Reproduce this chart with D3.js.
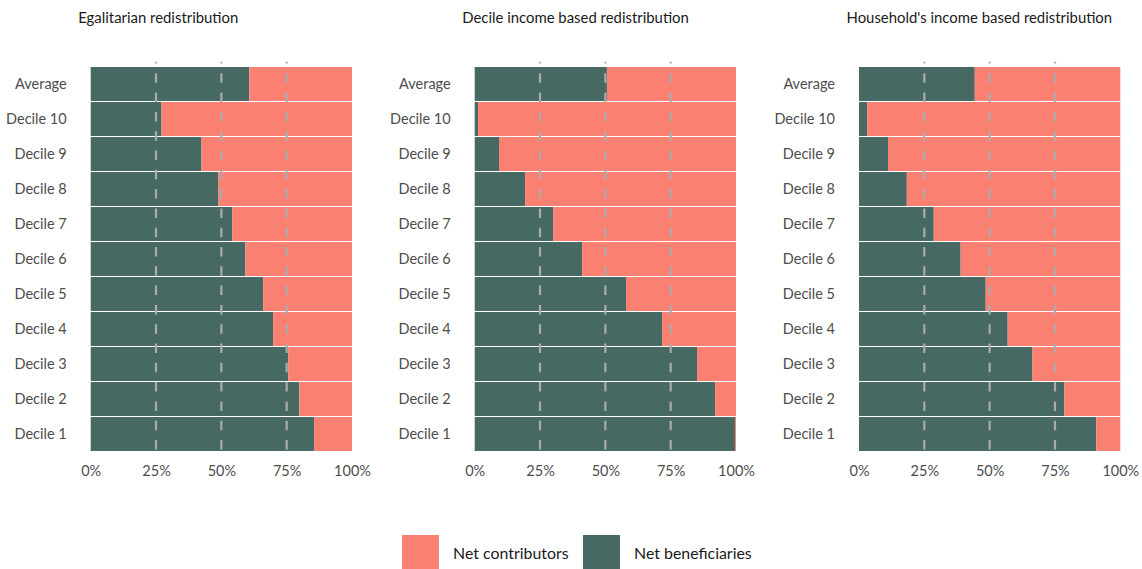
<!DOCTYPE html>
<html><head><meta charset="utf-8">
<script src="https://cdn.jsdelivr.net/npm/d3@7"></script>
<style>body{margin:0;background:#fff}svg{display:block}</style>
</head><body>
<svg id="c" width="1142" height="569"></svg>
<script>
const categories = ["Average","Decile 10","Decile 9","Decile 8","Decile 7","Decile 6","Decile 5","Decile 4","Decile 3","Decile 2","Decile 1"];
const panelTitles = ["Egalitarian redistribution","Decile income based redistribution","Household's income based redistribution"];
// share of net beneficiaries per category, one array per panel
const egalitarianBeneficiaries = [0.607,0.271,0.424,0.489,0.542,0.592,0.660,0.698,0.756,0.798,0.855];
const decileBeneficiaries      = [0.506,0.013,0.093,0.193,0.300,0.411,0.579,0.717,0.851,0.920,0.996];
const householdBeneficiaries   = [0.443,0.031,0.111,0.183,0.286,0.389,0.485,0.569,0.664,0.786,0.908];
const xTicks = [0,0.25,0.5,0.75,1];
const xTickLabels = ["0%","25%","50%","75%","100%"];
const gridValues = [0.25,0.5,0.75];
const seriesNames = ["Net contributors","Net beneficiaries"];
const colors = {"Net contributors":"#FA8072","Net beneficiaries":"#476963"};

const panels = [egalitarianBeneficiaries, decileBeneficiaries, householdBeneficiaries];
const svg = d3.select("#c");
const font = "Lato, 'Open Sans', sans-serif";
const panelLeft = [90.7, 474.7, 859];
const pw = 261.3;
const y = d3.scaleBand().domain(categories).range([66.5, 451.5]).paddingInner(0.03).paddingOuter(0.015);

panels.forEach((vals, i) => {
  const x = d3.scaleLinear().domain([0,1]).range([panelLeft[i], panelLeft[i]+pw]);
  const g = svg.append("g");
  g.append("text").attr("x", panelLeft[i]-12.5).attr("y", 23).text(panelTitles[i])
    .attr("font-family", font).attr("font-size", 14.9).attr("fill", "#1a1a1a");
  const rows = categories.map((c,k)=>({c, b: vals[k]}));
  g.selectAll("rect.b").data(rows).join("rect")
    .attr("x", x(0)).attr("y", d=>y(d.c)).attr("width", d=>x(d.b)-x(0)).attr("height", y.bandwidth())
    .attr("fill", colors["Net beneficiaries"]);
  g.selectAll("rect.cn").data(rows).join("rect")
    .attr("x", d=>x(d.b)).attr("y", d=>y(d.c)).attr("width", d=>x(1)-x(d.b)).attr("height", y.bandwidth())
    .attr("fill", colors["Net contributors"]);
  g.selectAll("line.grid").data(gridValues).join("line")
    .attr("x1", d=>x(d)).attr("x2", d=>x(d)).attr("y1", 61.7).attr("y2", 455.5)
    .attr("stroke", "#ababab").attr("stroke-width", 2.2)
    .attr("stroke-dasharray", "9.5 9.8").attr("stroke-dashoffset", 7.7);
  const ax = d3.axisLeft(y).tickSize(0).tickPadding(0);
  const ya = g.append("g").attr("transform", `translate(${panelLeft[i]-24},0)`).call(ax);
  ya.select(".domain").remove();
  ya.selectAll("text").attr("font-family", font).attr("font-size", 14.5).attr("fill", "#4d4d4d");
  const xa = d3.axisBottom(x).tickValues(xTicks).tickFormat((d,k)=>xTickLabels[k]).tickSize(0).tickPadding(0);
  const xg = g.append("g").attr("transform", `translate(0,466)`).call(xa);
  xg.select(".domain").remove();
  xg.selectAll("text").attr("font-family", font).attr("font-size", 14.5).attr("fill", "#4d4d4d");
});

const leg = svg.append("g");
const legX = [402, 583];
seriesNames.forEach((s, k) => {
  leg.append("rect").attr("x", legX[k]).attr("y", 535).attr("width", 37).attr("height", 34).attr("fill", colors[s]);
  leg.append("text").attr("x", legX[k]+51).attr("y", 553).attr("dy", "0.35em").text(s)
    .attr("font-family", font).attr("font-size", 15.9).attr("fill", "#1a1a1a");
});
</script>
</body></html>
